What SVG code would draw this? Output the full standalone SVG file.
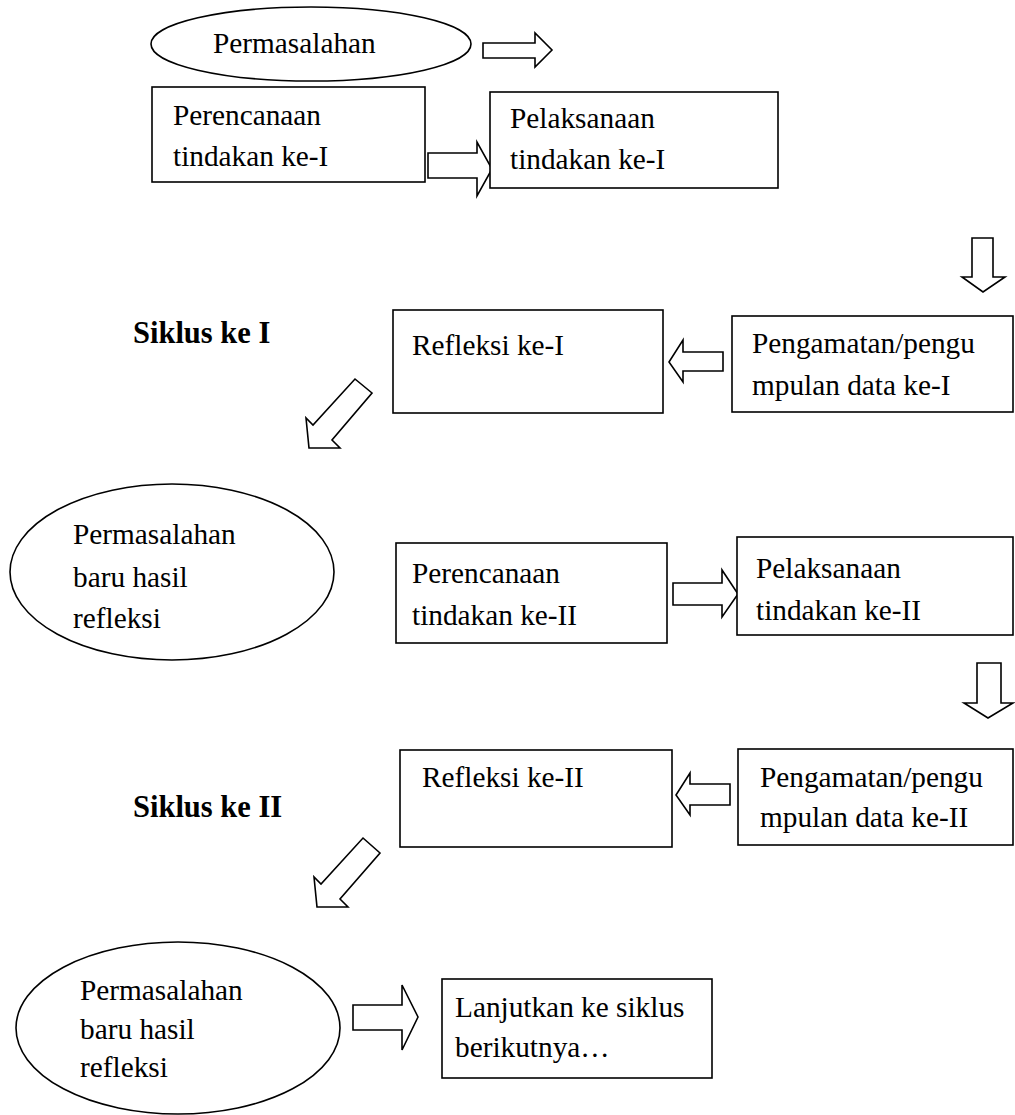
<svg xmlns="http://www.w3.org/2000/svg" width="1015" height="1115" viewBox="0 0 1015 1115">
<style>
.n{fill:#fff;stroke:#000;stroke-width:1.6}
.a{fill:#fff;stroke:#000;stroke-width:1.6;stroke-linejoin:miter}
text{font-family:"Liberation Serif","Times New Roman",serif;font-size:29.3px;fill:#000}
.b{font-weight:bold;font-size:30.5px}
</style>
<rect width="1015" height="1115" fill="#fff"/>
<g id="connectors">
<polygon class="a" points="483,43 535,43 535,33 552,50 535,67 535,58 483,58"/>
<polygon class="a" points="428,153 477,153 477,142 492,169 477,196 477,178 428,178"/>
<polygon class="a" points="972,238 993,238 993,277 1005,277 983,292 962,277 972,277"/>
<polygon class="a" points="723,352 683,352 683,340 669,362 683,382 683,371 723,371"/>
<polygon class="a" points="355,379 372,393 332,440 340,448 309,448 306,418 313,425"/>
<polygon class="a" points="673,583 722,583 722,570 738,594 722,617 722,605 673,605"/>
<polygon class="a" points="977,663 1001,663 1001,703 1013,703 988,718 964,703 977,703"/>
<polygon class="a" points="730,784 690,784 690,773 676,795 690,815 690,805 730,805"/>
<polygon class="a" points="363,838 380,853 340,899 348,907 317,907 314,877 321,884"/>
<polygon class="a" points="353,1005 402,1005 402,985 418,1017 402,1050 402,1030 353,1030"/>
</g>
<g id="e1"><ellipse class="n" cx="311" cy="44" rx="160" ry="37"/><text x="213" y="53">Permasalahan</text></g>
<g id="b1"><rect class="n" x="152" y="87" width="273" height="95"/><text x="173" y="125">Perencanaan</text><text x="173" y="166">tindakan ke-I</text></g>
<g id="b2"><rect class="n" x="490" y="92" width="288" height="96"/><text x="510" y="128">Pelaksanaan</text><text x="510" y="169">tindakan ke-I</text></g>
<g id="s1"><text class="b" x="133" y="343">Siklus ke I</text></g>
<g id="b3"><rect class="n" x="393" y="310" width="270" height="103"/><text x="412" y="355">Refleksi ke-I</text></g>
<g id="b4"><rect class="n" x="732" y="316" width="281" height="96"/><text x="752" y="353">Pengamatan/pengu</text><text x="752" y="395">mpulan data ke-I</text></g>
<g id="e2"><ellipse class="n" cx="172" cy="572" rx="162" ry="88"/><text x="73" y="544">Permasalahan</text><text x="73" y="587">baru hasil</text><text x="73" y="628">refleksi</text></g>
<g id="b5"><rect class="n" x="396" y="543" width="271" height="100"/><text x="412" y="583">Perencanaan</text><text x="412" y="625">tindakan ke-II</text></g>
<g id="b6"><rect class="n" x="737" y="537" width="276" height="98"/><text x="756" y="578">Pelaksanaan</text><text x="756" y="620">tindakan ke-II</text></g>
<g id="b7"><rect class="n" x="400" y="750" width="272" height="97"/><text x="422" y="787">Refleksi ke-II</text></g>
<g id="b8"><rect class="n" x="738" y="749" width="275" height="96"/><text x="760" y="787">Pengamatan/pengu</text><text x="760" y="827">mpulan data ke-II</text></g>
<g id="s2"><text class="b" x="133" y="817">Siklus ke II</text></g>
<g id="e3"><ellipse class="n" cx="178" cy="1028" rx="162" ry="86"/><text x="80" y="1000">Permasalahan</text><text x="80" y="1039">baru hasil</text><text x="80" y="1077">refleksi</text></g>
<g id="b9"><rect class="n" x="442" y="979" width="270" height="99"/><text x="455" y="1017">Lanjutkan ke siklus</text><text x="455" y="1057">berikutnya…</text></g>
</svg>
